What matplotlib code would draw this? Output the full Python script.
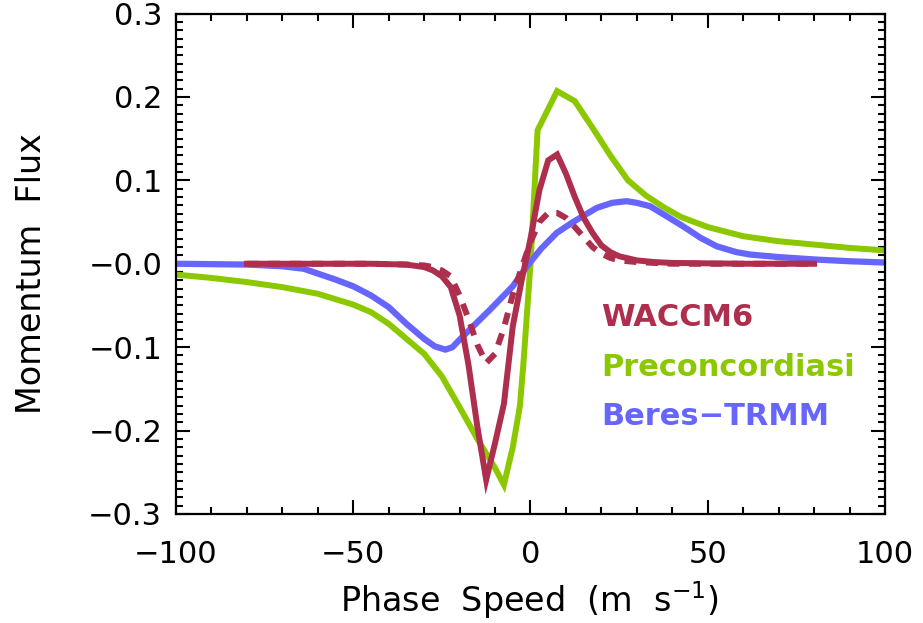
import matplotlib.pyplot as plt
from matplotlib.ticker import MultipleLocator, FixedLocator, FixedFormatter

# WACCM6 (solid and dotted)
waccm_x = [-80, -60, -45, -35, -30, -27.5, -25, -22.5, -20, -17.5, -15, -12.5, -10, -7.5, -5, -2.5,
           0, 2.5, 5, 7.5, 10, 12.5, 15, 17.5, 20, 22.5, 25, 30, 35, 40, 60, 80]
waccm_y = [0.0, 0.0, 0.0, -0.001, -0.004, -0.008, -0.015, -0.028, -0.062, -0.121, -0.195, -0.259, -0.215, -0.168, -0.075, -0.02,
           0.03, 0.088, 0.124, 0.131, 0.108, 0.080, 0.055, 0.037, 0.022, 0.014, 0.009, 0.004, 0.002, 0.001, 0.0, 0.0]
waccm_dot_y = [0.0, 0.0, 0.0, -0.001, -0.002, -0.004, -0.008, -0.015, -0.038, -0.066, -0.097, -0.119, -0.108, -0.077, -0.037, -0.005,
               0.026, 0.050, 0.061, 0.061, 0.055, 0.044, 0.032, 0.020, 0.012, 0.007, 0.004, 0.002, 0.001, 0.0, 0.0, 0.0]

# Preconcordiasi
pre_x = [-100, -90, -80, -70, -60, -50, -45, -40, -35, -30, -25, -20, -15, -10, -7.5, -5, -3, -2, -1,
         0, 1, 2, 7.5, 12.5, 17.5, 22.5, 27.5, 32.5, 37.5, 42.5, 50, 60, 70, 80, 90, 100]
pre_y = [-0.013, -0.017, -0.022, -0.028, -0.036, -0.049, -0.058, -0.072, -0.090, -0.108, -0.135, -0.172, -0.210, -0.245, -0.265, -0.22, -0.171, -0.12, -0.06,
         0.0, 0.08, 0.16, 0.207, 0.195, 0.163, 0.130, 0.100, 0.082, 0.068, 0.056, 0.044, 0.033, 0.027, 0.023, 0.019, 0.016]

# Beres-TRMM
beres_x = [-100, -80, -70, -64, -55, -50, -45, -40, -35, -30, -27, -24, -22, -20, -15, -11.4, -5, -1,
           3, 7.4, 12, 18.7, 23, 27.1, 30, 33.7, 38, 43, 48, 52.5, 58, 62, 70, 80.7, 90, 100]
beres_y = [0.0, -0.001, -0.003, -0.006, -0.019, -0.027, -0.038, -0.052, -0.072, -0.090, -0.099, -0.103, -0.100, -0.091, -0.070, -0.055, -0.027, -0.003,
           0.018, 0.037, 0.050, 0.067, 0.073, 0.075, 0.073, 0.069, 0.058, 0.045, 0.031, 0.021, 0.014, 0.011, 0.008, 0.005, 0.003, 0.0015]

ytick_vals = [-0.3, -0.2, -0.1, 0.0, 0.1, 0.2, 0.3]
ytick_labels = ['\u22120.3', '\u22120.2', '\u22120.1', '\u22120.0', '0.1', '0.2', '0.3']

red = '#AE2E4E'
green = '#8CC800'
blue = '#6666FF'

fig = plt.figure(figsize=(9.23, 6.23), dpi=100)
ax = fig.add_axes([0.1907, 0.175, 0.7681, 0.8033])

ax.plot(pre_x, pre_y, color=green, lw=4.3, solid_joinstyle='miter')
ax.plot(beres_x, beres_y, color=blue, lw=4.5)
ax.plot(waccm_x, waccm_dot_y, color=red, lw=4.3, dashes=(2.0, 1.6), dash_capstyle='butt')
ax.plot(waccm_x, waccm_y, color=red, lw=4.3, solid_joinstyle='miter')

ax.set_xlim(-100, 100)
ax.set_ylim(-0.3, 0.3)
ax.xaxis.set_major_locator(MultipleLocator(50))
ax.xaxis.set_minor_locator(MultipleLocator(10))
ax.yaxis.set_major_locator(FixedLocator(ytick_vals))
ax.yaxis.set_major_formatter(FixedFormatter(ytick_labels))
ax.yaxis.set_minor_locator(MultipleLocator(0.01))

ax.tick_params(which='both', direction='in', top=True, right=True, width=1.5, labelsize=22)
ax.tick_params(which='major', length=10)
ax.tick_params(which='minor', length=5)
ax.tick_params(axis='x', pad=19)
ax.tick_params(axis='y', pad=10)
for s in ax.spines.values():
    s.set_linewidth(1.6)

ax.set_xlabel('Phase  Speed  (m  s$^{-1}$)', fontsize=24)
ax.set_ylabel('Momentum  Flux', fontsize=24)
ax.xaxis.set_label_coords(0.498, -0.13)
ax.yaxis.set_label_coords(-0.18, 0.48)

ax.text(0.60, 0.393, 'WACCM6', transform=ax.transAxes, color=red, fontsize=22, fontweight='bold', va='center')
ax.text(0.60, 0.292, 'Preconcordiasi', transform=ax.transAxes, color=green, fontsize=22, fontweight='bold', va='center')
ax.text(0.60, 0.194, 'Beres\u2212TRMM', transform=ax.transAxes, color=blue, fontsize=22, fontweight='bold', va='center')

plt.savefig('out.png', dpi=100)
